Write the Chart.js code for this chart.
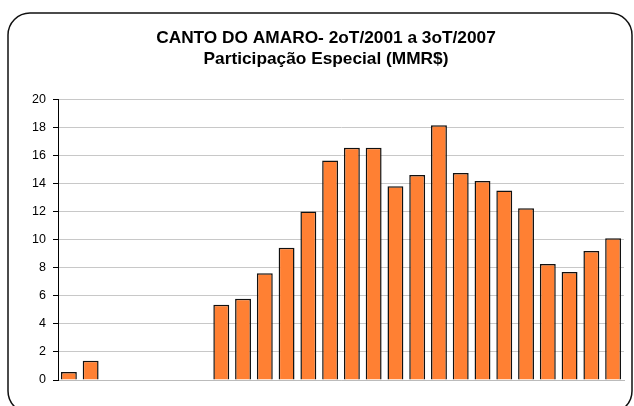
<!DOCTYPE html>
<html lang="pt">
<head>
  <meta charset="UTF-8" />
  <title>Canto do Amaro - Participação Especial</title>
  <script src="https://cdn.jsdelivr.net/npm/chart.js"></script>
  <style>
    body {
      margin: 0;
      background: #fff;
    }
  </style>
</head>
<body>
  <canvas id="peChart" width="634" height="406"></canvas>

  <script>
    const quarters = [
      '2T/2001', '3T/2001', '4T/2001',
      '1T/2002', '2T/2002', '3T/2002', '4T/2002',
      '1T/2003', '2T/2003', '3T/2003', '4T/2003',
      '1T/2004', '2T/2004', '3T/2004', '4T/2004',
      '1T/2005', '2T/2005', '3T/2005', '4T/2005',
      '1T/2006', '2T/2006', '3T/2006', '4T/2006',
      '1T/2007', '2T/2007', '3T/2007'
    ];
    const participacao = [
      0.57, 1.38, 0, 0, 0, 0, 0,
      5.36, 5.79, 7.6, 9.43, 12.0, 15.64, 16.55, 16.55,
      13.8, 14.6, 18.15, 14.75, 14.17, 13.5, 12.24,
      8.26, 7.69, 9.19, 10.09
    ];
    const titleLines = ['CANTO DO AMARO- 2oT/2001 a 3oT/2007', 'Participação Especial (MMR$)'];

    // rounded frame around the whole chart, like the excel chart area
    const framePlugin = {
      id: 'frame',
      beforeDraw(chart) {
        const ctx = chart.ctx;
        ctx.save();
        ctx.strokeStyle = '#111';
        ctx.lineWidth = 1.5;
        ctx.beginPath();
        ctx.roundRect(8, 13, 624, 400, 22);
        ctx.stroke();
        ctx.restore();
      }
    };

    new Chart(document.getElementById('peChart'), {
      type: 'bar',
      data: {
        labels: quarters,
        datasets: [{
          label: 'Participação Especial',
          data: participacao,
          backgroundColor: '#FF8033',
          borderColor: '#111',
          borderWidth: 1.5,
          barPercentage: 0.73,
          categoryPercentage: 1
        }]
      },
      options: {
        responsive: false,
        animation: false,
        devicePixelRatio: 1,
        layout: {
          // left padding pushes the title centre to the right, as in the original
          padding: { left: 28, right: 10, top: 0, bottom: 26 }
        },
        plugins: {
          legend: { display: false },
          tooltip: { enabled: false },
          title: {
            display: true,
            text: titleLines,
            color: '#000',
            font: { family: 'Liberation Sans', size: 17.3, weight: 'bold', lineHeight: 1.25 },
            padding: { top: 27, bottom: 29 }
          }
        },
        scales: {
          x: {
            ticks: { display: false },
            grid: { display: false, drawTicks: false },
            border: { display: true, color: '#bbb', width: 1 }
          },
          y: {
            min: 0,
            max: 20,
            afterFit(scale) { scale.width = 30; },
            ticks: {
              stepSize: 2,
              padding: 7,
              color: '#000',
              font: { family: 'Liberation Sans', size: 12.5 }
            },
            grid: {
              color: '#c8c8c8',
              tickColor: '#000',
              tickLength: 5
            },
            border: { display: true, color: '#000', width: 1 }
          }
        }
      },
      plugins: [framePlugin]
    });
  </script>
</body>
</html>
